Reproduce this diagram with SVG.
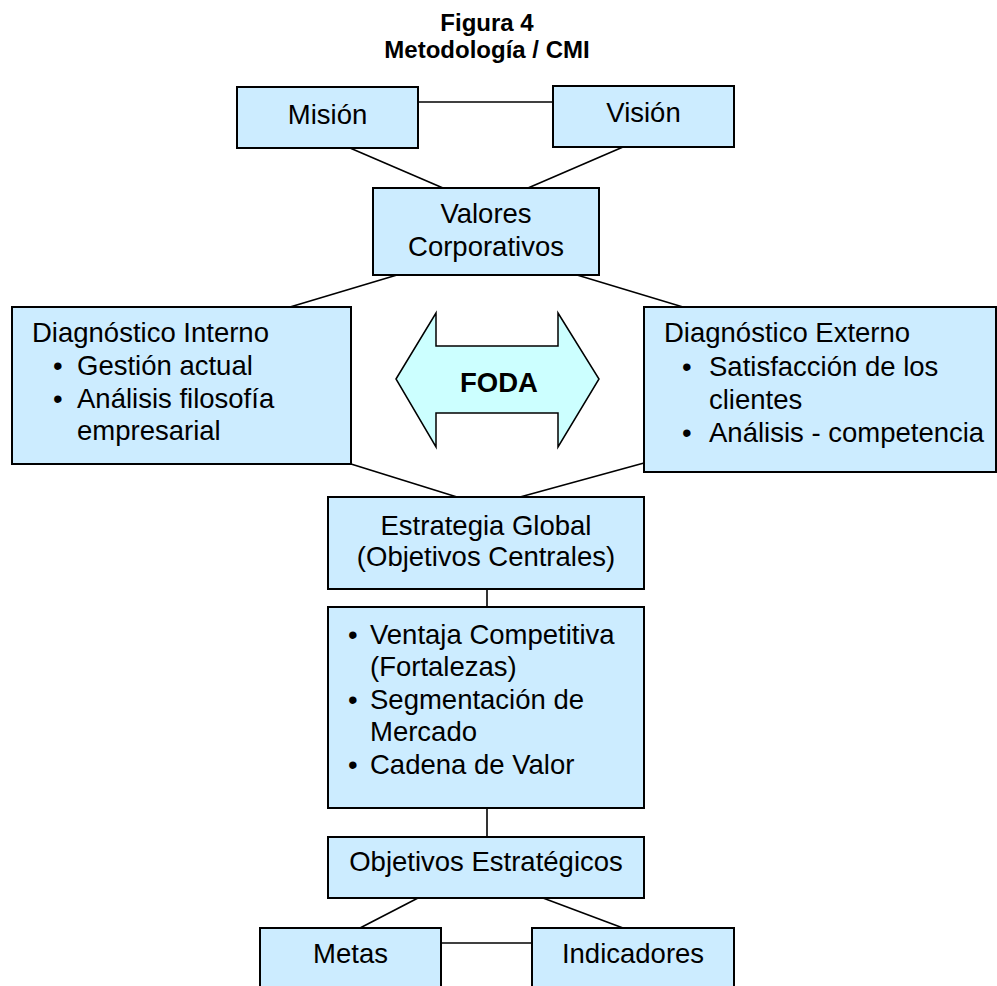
<svg xmlns="http://www.w3.org/2000/svg" width="997" height="986" viewBox="0 0 997 986">
<style>
.box{fill:#CCECFF;stroke:#000;stroke-width:2}
.t{font-family:"Liberation Sans",Arial,sans-serif;font-size:27.5px;fill:#000}
.c{text-anchor:middle}
.b{font-weight:bold}
.h{font-size:24px}
.ln{stroke:#000;stroke-width:1.6;fill:none}
</style>
<rect width="997" height="986" fill="#fff"/>
<g id="title">
<text class="t c b h" x="487" y="31">Figura 4</text>
<text class="t c b h" x="487" y="58">Metodología / CMI</text>
</g>
<g id="connectors">
<line class="ln" x1="418" y1="102" x2="553" y2="102"/>
<line class="ln" x1="350" y1="148" x2="443" y2="188"/>
<line class="ln" x1="623" y1="147" x2="528" y2="188"/>
<line class="ln" x1="397" y1="275" x2="290" y2="307"/>
<line class="ln" x1="577" y1="275" x2="683" y2="307"/>
<line class="ln" x1="351" y1="464" x2="457" y2="497"/>
<line class="ln" x1="644" y1="463" x2="520" y2="497"/>
<line class="ln" x1="487" y1="589" x2="487" y2="607"/>
<line class="ln" x1="487" y1="808" x2="487" y2="837"/>
<line class="ln" x1="418" y1="898" x2="360" y2="928"/>
<line class="ln" x1="543" y1="898" x2="623" y2="928"/>
<line class="ln" x1="441" y1="943" x2="532" y2="943"/>
</g>
<g id="mision">
<rect class="box" x="237" y="87" width="181" height="61"/>
<text class="t c" x="327.5" y="124">Misión</text>
</g>
<g id="vision">
<rect class="box" x="553" y="86" width="181" height="61"/>
<text class="t c" x="643.5" y="122">Visión</text>
</g>
<g id="valores">
<rect class="box" x="373" y="188" width="226" height="87"/>
<text class="t c" x="486" y="223">Valores</text>
<text class="t c" x="486" y="256">Corporativos</text>
</g>
<g id="diag-interno">
<rect class="box" x="12" y="307" width="339" height="157"/>
<text class="t" x="32" y="342">Diagnóstico Interno</text>
<text class="t" x="53" y="375">•</text>
<text class="t" x="77" y="375">Gestión actual</text>
<text class="t" x="53" y="408">•</text>
<text class="t" x="77" y="408">Análisis filosofía</text>
<text class="t" x="77" y="440">empresarial</text>
</g>
<g id="foda">
<polygon points="396,379 436,313 436,346 558,346 558,313 599,379 558,447 558,413 436,413 436,447" fill="#CCFFFF" stroke="#000" stroke-width="1.5"/>
<text class="t c b" x="499" y="392">FODA</text>
</g>
<g id="diag-externo">
<rect class="box" x="644" y="307" width="352" height="165"/>
<text class="t" x="664" y="342">Diagnóstico Externo</text>
<text class="t" x="682" y="376">•</text>
<text class="t" x="709" y="376">Satisfacción de los</text>
<text class="t" x="709" y="409">clientes</text>
<text class="t" x="682" y="442">•</text>
<text class="t" x="709" y="442">Análisis - competencia</text>
</g>
<g id="estrategia">
<rect class="box" x="328" y="497" width="316" height="92"/>
<text class="t c" x="486" y="535">Estrategia Global</text>
<text class="t c" x="486" y="566">(Objetivos Centrales)</text>
</g>
<g id="ventajas">
<rect class="box" x="328" y="607" width="316" height="201"/>
<text class="t" x="348" y="644">•</text>
<text class="t" x="370" y="644">Ventaja Competitiva</text>
<text class="t" x="370" y="676">(Fortalezas)</text>
<text class="t" x="348" y="709">•</text>
<text class="t" x="370" y="709">Segmentación de</text>
<text class="t" x="370" y="741">Mercado</text>
<text class="t" x="348" y="774">•</text>
<text class="t" x="370" y="774">Cadena de Valor</text>
</g>
<g id="objetivos">
<rect class="box" x="328" y="837" width="316" height="61"/>
<text class="t c" x="486" y="871">Objetivos Estratégicos</text>
</g>
<g id="metas">
<rect class="box" x="260" y="928" width="181" height="70"/>
<text class="t c" x="350.5" y="963">Metas</text>
</g>
<g id="indicadores">
<rect class="box" x="532" y="928" width="202" height="70"/>
<text class="t c" x="633" y="963">Indicadores</text>
</g>
</svg>
